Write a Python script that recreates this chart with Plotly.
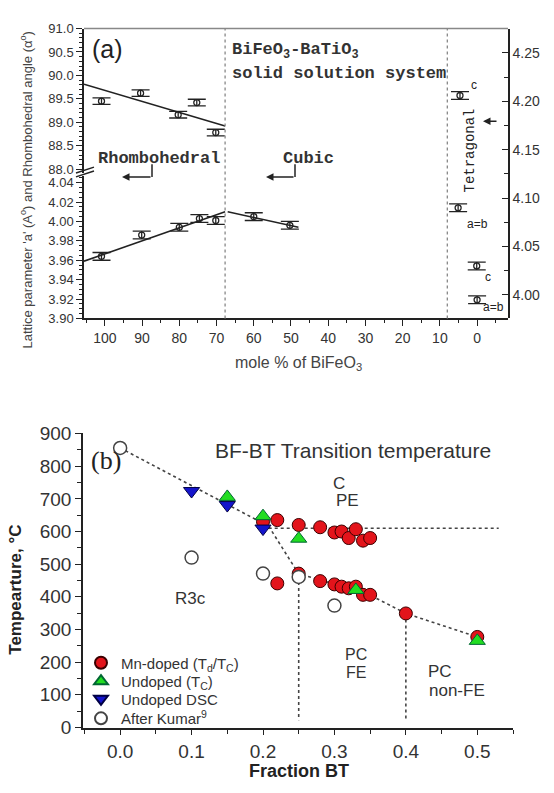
import plotly.graph_objects as go

W, H = 554, 793


def px(x):
    return x / W


def py(y):
    return 1 - y / H


# ---------------- Panel (a) data ----------------
angle_x = [100.9, 90.4, 80.3, 75.3, 70.2]
angle_y = [89.45, 89.62, 89.16, 89.42, 88.78]
angle_err = [0.07, 0.07, 0.07, 0.07, 0.07]
angle_fit_x = [105.6, 67.7]
angle_fit_y = [89.81, 88.92]

rhomb_a_x = [100.9, 90.1, 80.0, 74.6, 70.2]
rhomb_a_y = [3.964, 3.986, 3.994, 4.003, 4.001]
rhomb_a_err = [0.004, 0.004, 0.004, 0.004, 0.004]
rhomb_fit_x = [105.6, 67.7]
rhomb_fit_y = [3.959, 4.010]

cubic_a_x = [60.0, 50.3]
cubic_a_y = [4.005, 3.996]
cubic_a_err = [0.004, 0.004]
cubic_fit_x = [67.0, 48.0]
cubic_fit_y = [4.010, 3.994]

tetra_x = [4.6, 5.1, 0.1, 0.0]
tetra_y = [4.206, 4.090, 4.030, 3.995]
tetra_err = [0.004, 0.004, 0.004, 0.004]
tetra_labels = ["c", "a=b", "c", "a=b"]
tetra_label_shift = [(14, 11), (19, -16), (11, -11), (16, -7)]

phase_bounds_a = [67.7, 8.0]

# ---------------- Panel (b) data ----------------
mn_x = [0.20, 0.22, 0.25, 0.28, 0.30, 0.31, 0.32, 0.33, 0.34, 0.35,
        0.22, 0.25, 0.28, 0.30, 0.31, 0.32, 0.33, 0.34, 0.35, 0.40, 0.50]
mn_y = [630, 635, 620, 613, 597, 600, 580, 607, 572, 580,
        441, 471, 448, 438, 431, 426, 431, 406, 406, 349, 277]
undoped_x = [0.15, 0.20, 0.25, 0.33, 0.50]
undoped_y = [706, 647, 578, 421, 265]
dsc_x = [0.10, 0.15, 0.20]
dsc_y = [724, 681, 609]
kumar_x = [0.0, 0.1, 0.2, 0.25, 0.30]
kumar_y = [856, 520, 471, 461, 373]

bound1_x = [0.0, 0.208, 0.25, 0.28, 0.35, 0.40, 0.50]
bound1_y = [856, 616, 470, 452, 405, 349, 277]
bound2_x = [0.208, 0.53]
bound2_y = [610, 610]
bound3_x = [0.25, 0.25]
bound3_y = [445, 22]
bound4_x = [0.40, 0.40]
bound4_y = [349, 22]

fig = go.Figure()

INK = "#222222"
SANS = "Liberation Sans"
MONO = "Liberation Mono"

# ---- panel (a) traces ----
err_style = dict(type="data", visible=True, color=INK, thickness=1.3, width=9)
fig.add_trace(go.Scatter(x=angle_fit_x, y=angle_fit_y, xaxis="x", yaxis="y", mode="lines",
                         line=dict(color=INK, width=1.6), showlegend=False, hoverinfo="skip"))
fig.add_trace(go.Scatter(x=angle_x, y=angle_y, xaxis="x", yaxis="y", mode="markers",
                         marker=dict(symbol="circle-open", size=6, color=INK, line=dict(width=1.3)),
                         error_y=dict(array=angle_err, **err_style), showlegend=False))
fig.add_trace(go.Scatter(x=rhomb_fit_x, y=rhomb_fit_y, xaxis="x", yaxis="y2", mode="lines",
                         line=dict(color=INK, width=1.6), showlegend=False, hoverinfo="skip"))
fig.add_trace(go.Scatter(x=cubic_fit_x, y=cubic_fit_y, xaxis="x", yaxis="y2", mode="lines",
                         line=dict(color=INK, width=1.6), showlegend=False, hoverinfo="skip"))
fig.add_trace(go.Scatter(x=rhomb_a_x, y=rhomb_a_y, xaxis="x", yaxis="y2", mode="markers",
                         marker=dict(symbol="circle-open", size=6, color=INK, line=dict(width=1.3)),
                         error_y=dict(array=rhomb_a_err, **err_style), showlegend=False))
fig.add_trace(go.Scatter(x=cubic_a_x, y=cubic_a_y, xaxis="x", yaxis="y2", mode="markers",
                         marker=dict(symbol="circle-open", size=6, color=INK, line=dict(width=1.3)),
                         error_y=dict(array=cubic_a_err, **err_style), showlegend=False))
fig.add_trace(go.Scatter(x=tetra_x, y=tetra_y, xaxis="x", yaxis="y3", mode="markers",
                         marker=dict(symbol="circle-open", size=6, color=INK, line=dict(width=1.3)),
                         error_y=dict(array=tetra_err, **err_style), showlegend=False))

# ---- panel (b) traces ----
def join(*segs):
    xs, ys = [], []
    for sx, sy in segs:
        xs += list(sx) + [None]
        ys += list(sy) + [None]
    return xs, ys


bx, by = join((bound1_x, bound1_y), (bound2_x, bound2_y), (bound3_x, bound3_y), (bound4_x, bound4_y))
fig.add_trace(go.Scatter(x=bx, y=by, xaxis="x2", yaxis="y4", mode="lines",
                         line=dict(color="#444", width=1.6, dash="dot"), showlegend=False,
                         hoverinfo="skip"))
fig.add_trace(go.Scatter(x=mn_x, y=mn_y, xaxis="x2", yaxis="y4", mode="markers",
                         name="Mn-doped (T<sub>d</sub>/T<sub>C</sub>)", legend="legend",
                         marker=dict(symbol="circle", size=13, color="#e3141b",
                                     line=dict(color="#3a0000", width=1))))
fig.add_trace(go.Scatter(x=undoped_x, y=undoped_y, xaxis="x2", yaxis="y4", mode="markers",
                         name="Undoped (T<sub>C</sub>)", legend="legend2",
                         marker=dict(symbol="triangle-up", size=14, color="#22dd22",
                                     line=dict(color="#063", width=1))))
fig.add_trace(go.Scatter(x=dsc_x, y=dsc_y, xaxis="x2", yaxis="y4", mode="markers",
                         name="Undoped DSC", legend="legend3",
                         marker=dict(symbol="triangle-down", size=14, color="#1414cc",
                                     line=dict(color="#000044", width=1))))
fig.add_trace(go.Scatter(x=kumar_x, y=kumar_y, xaxis="x2", yaxis="y4", mode="markers",
                         name="After Kumar<sup>9</sup>", legend="legend4",
                         marker=dict(symbol="circle", size=13, color="white",
                                     line=dict(color="#444", width=1.5))))

tick_a = dict(family=SANS, size=13, color="#333")
tick_b = dict(family=SANS, size=19, color="#333")
common = dict(showgrid=False, zeroline=False, showline=True, linecolor=INK, linewidth=1.5,
              tickcolor=INK, tickwidth=1.3)


def leg(ycenter):
    return dict(x=px(81), y=py(ycenter), xanchor="left", yanchor="middle",
                bgcolor="rgba(0,0,0,0)", font=dict(family=SANS, size=15, color="#333"),
                itemsizing="constant")


fig.update_layout(
    width=W, height=H, autosize=False,
    margin=dict(l=0, r=0, t=0, b=0),
    paper_bgcolor="white", plot_bgcolor="rgba(0,0,0,0)",
    font=dict(family=SANS, color="#333"),
    xaxis=dict(domain=[px(84), px(508)], range=[105.6, -8.3], anchor="y2",
               ticks="outside", ticklen=6, tickmode="linear", tick0=0, dtick=10,
               minor=dict(ticks="outside", ticklen=3, tick0=0, dtick=5, tickcolor=INK),
               tickfont=dict(family=SANS, size=14, color="#333"), **common),
    yaxis=dict(domain=[py(168), py(20)], range=[87.9167, 91.0], anchor="x",
               ticks="outside", ticklen=6, tickmode="linear", tick0=88, dtick=0.5,
               tickformat=".1f",
               minor=dict(ticks="outside", ticklen=3, tick0=88, dtick=0.1, tickcolor=INK),
               tickfont=tick_a, **common),
    yaxis2=dict(domain=[py(317), py(171)], range=[3.90, 4.047], anchor="x",
                ticks="outside", ticklen=6, tickmode="linear", tick0=3.90, dtick=0.02,
                tickformat=".2f",
                minor=dict(ticks="outside", ticklen=3, tick0=3.90, dtick=0.005, tickcolor=INK),
                tickfont=tick_a, **common),
    yaxis3=dict(domain=[py(317), py(20)], range=[3.9758, 4.2752], anchor="x", side="right",
                ticks="inside", ticklen=6, tickmode="linear", tick0=4.0, dtick=0.05,
                tickformat=".2f",
                minor=dict(ticks="inside", ticklen=4, tick0=4.0, dtick=0.025, tickcolor=INK),
                tickfont=dict(family=SANS, size=14, color="#333"), **common),
    xaxis2=dict(domain=[px(83), px(513)], range=[-0.052, 0.55], anchor="y4",
                ticks="outside", ticklen=5, tickmode="linear", tick0=0, dtick=0.1,
                tickformat=".1f",
                minor=dict(ticks="outside", ticklen=4, tick0=0, dtick=0.05, tickcolor=INK),
                tickfont=tick_b, **common),
    xaxis3=dict(overlaying="x2", side="top", anchor="y4", range=[-0.052, 0.55],
                ticks="inside", ticklen=5, tickmode="linear", tick0=0, dtick=0.1,
                showticklabels=False,
                minor=dict(ticks="inside", ticklen=4, tick0=0, dtick=0.05, tickcolor=INK),
                **common),
    yaxis4=dict(domain=[py(737), py(434)], range=[-3, 903], anchor="x2",
                ticks="outside", ticklen=6, tickmode="linear", tick0=0, dtick=100,
                minor=dict(ticks="outside", ticklen=4, tick0=0, dtick=50, tickcolor=INK),
                tickfont=tick_b, **common),
    yaxis5=dict(overlaying="y4", side="right", anchor="x2", range=[-3, 903],
                ticks="inside", ticklen=6, tickmode="linear", tick0=0, dtick=50,
                showticklabels=False, **common),
    legend=leg(670),
    legend2=leg(689),
    legend3=leg(707),
    legend4=leg(727),
)

# frame pieces / decorations panel (a)
shapes = [
    dict(type="line", xref="paper", yref="paper", x0=px(84), x1=px(508), y0=py(20), y1=py(20),
         line=dict(color="#888", width=1.5)),
    dict(type="line", xref="paper", yref="paper", x0=px(76), x1=px(94), y0=py(168), y1=py(162),
         line=dict(color=INK, width=1.5)),
    dict(type="line", xref="paper", yref="paper", x0=px(76), x1=px(94), y0=py(172), y1=py(166),
         line=dict(color=INK, width=1.5)),
    dict(type="line", xref="paper", yref="paper", x0=px(152), x1=px(152), y0=py(159), y1=py(172),
         line=dict(color=INK, width=1.5)),
    dict(type="line", xref="paper", yref="paper", x0=px(295), x1=px(295), y0=py(159), y1=py(172),
         line=dict(color=INK, width=1.5)),
]
for b in phase_bounds_a:
    shapes.append(dict(type="line", xref="x", yref="y3 domain", x0=b, x1=b, y0=0, y1=1,
                       line=dict(color="#888", width=1.3, dash="dot")))
fig.update_layout(shapes=shapes)

anns = []


def text(t, x, y, size, family=SANS, color="#333", angle=0, xanchor="center"):
    anns.append(dict(text=t, x=px(x), y=py(y), xref="paper", yref="paper", showarrow=False,
                     font=dict(family=family, size=size, color=color), textangle=angle,
                     xanchor=xanchor, yanchor="middle"))


def arrow(x0, y0, x1, y1):
    # tail (x0, y0) -> head (x1, y1), screen pixels
    anns.append(dict(text="", x=px(x1), y=py(y1), ax=x0 - x1, ay=y0 - y1, xref="paper",
                     yref="paper", axref="pixel", ayref="pixel", showarrow=True,
                     arrowhead=2, arrowsize=1, arrowwidth=1.5, arrowcolor=INK))


# panel (a) texts
text("(a)", 107, 41, 25, color="#222")
text("<b>BiFeO<sub>3</sub>-BaTiO<sub>3</sub></b>", 230, 43, 17, family=MONO, xanchor="left")
text("<b>solid solution system</b>", 230, 66, 17, family=MONO, xanchor="left")
text("<b>Rhombohedral</b>", 96, 153, 17, family=MONO, xanchor="left")
text("<b>Cubic</b>", 281, 153, 17, family=MONO, xanchor="left")
text("Tetragonal", 470, 145, 14, family=MONO, angle=-90, color="#222")
text("Lattice parameter 'a' (A<sup>o</sup>) and Rhombohedral angle (\u03b1<sup>o</sup>)",
     26, 186, 13, color="#444", angle=-90)
text("mole % of BiFeO<sub>3</sub>", 298, 363, 16, color="#444")
arrow(152, 172, 122, 172)
arrow(295, 172, 266, 172)
arrow(498, 115, 483, 115)
for tx, ty, lab, (dx, dy) in zip(tetra_x, tetra_y, tetra_labels, tetra_label_shift):
    anns.append(dict(text=lab, x=tx, y=ty, xref="x", yref="y3", xshift=dx, yshift=dy,
                     showarrow=False, font=dict(family=SANS, size=12, color="#222")))

# panel (b) texts
text("(b)", 106, 463, 26, family="Liberation Serif", color="#222")
text("BF-BT Transition temperature", 213, 452, 21, xanchor="left")
text("C", 339, 486, 17)
text("PE", 347, 504, 17)
text("R3c", 190, 604, 17)
text("PC", 356, 661, 16)
text("FE", 356, 680, 16)
text("PC", 440, 679, 17)
text("non-FE", 457, 698, 17)
text("<b>Tempearture, \u00b0C</b>", 16, 595, 17, color="#222", angle=-90)
text("<b>Fraction BT</b>", 299, 781, 18, color="#222")

fig.update_layout(annotations=anns)

fig.write_html("out.html")
